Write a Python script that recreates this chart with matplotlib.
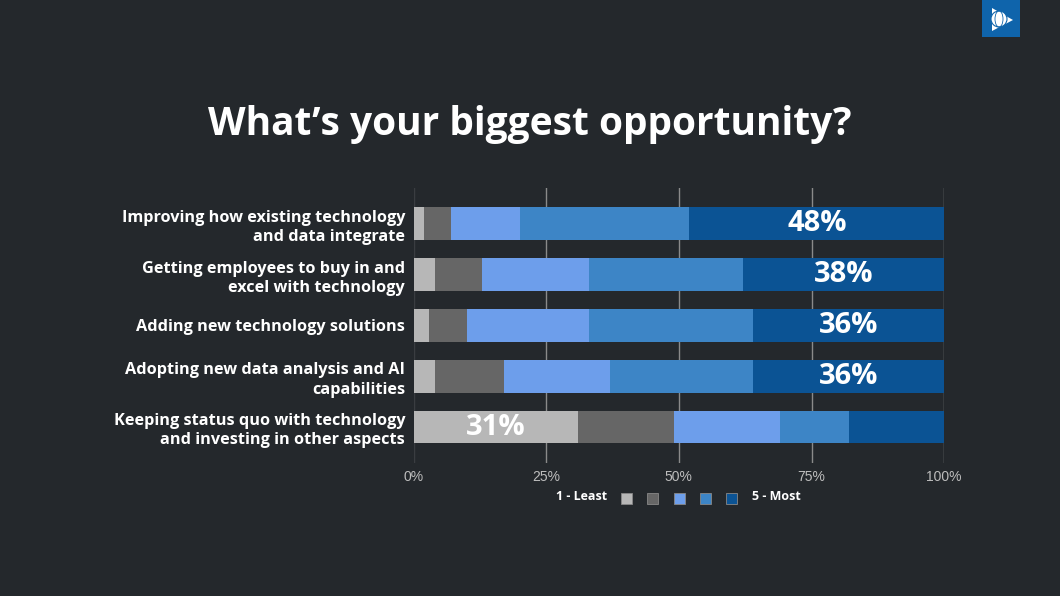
# Stacked 100% bar chart: biggest opportunity ratings

import matplotlib.pyplot as plt
from matplotlib.patches import Rectangle, Ellipse, Polygon

BG = '#24282c'

CATEGORIES = [
    'Improving how existing technology\nand data integrate',
    'Getting employees to buy in and\nexcel with technology',
    'Adding new technology solutions',
    'Adopting new data analysis and AI\ncapabilities',
    'Keeping status quo with technology\nand investing in other aspects',
]
# share of ratings 1 (least) .. 5 (most), in %
RATING_1 = [2, 4, 3, 4, 31]
RATING_2 = [5, 9, 7, 13, 18]
RATING_3 = [13, 20, 23, 20, 20]
RATING_4 = [32, 29, 31, 27, 13]
RATING_5 = [48, 38, 36, 36, 18]
SERIES = [RATING_1, RATING_2, RATING_3, RATING_4, RATING_5]
COLORS = ['#b7b7b7', '#666666', '#6d9eeb', '#3d85c6', '#0b5394']
XTICKS = [0, 25, 50, 75, 100]


def create():
    W, H = 1060, 596
    fig = plt.figure(figsize=(10.6, 5.96), dpi=100, facecolor=BG)
    ax = fig.add_axes([413.5 / W, 1 - 462.7 / H, 530.7 / W, 274.7 / H],
                      facecolor=BG)

    y = list(range(len(CATEGORIES)))
    left = [0] * len(CATEGORIES)
    for values, color in zip(SERIES, COLORS):
        ax.barh(y, values, left=left, height=0.644, color=color, zorder=2)
        left = [l + v for l, v in zip(left, values)]

    # label the biggest segment of each bar
    for i in y:
        vals = [s[i] for s in SERIES]
        k = vals.index(max(vals))
        start = sum(vals[:k])
        ax.text(start + vals[k] / 2, i, f'{vals[k]}%', ha='center', va='center',
                color='white', fontsize=21, fontweight='bold',
                family='Open Sans', zorder=3)

    ax.set_xlim(0, 100)
    ax.set_ylim(4.70, -0.703)
    ax.set_xticks(XTICKS)
    ax.set_xticklabels([f'{t}%' for t in XTICKS], color='#bdbdbd',
                       fontsize=10, family='Liberation Sans')
    ax.set_yticks(y)
    ax.set_yticklabels(CATEGORIES, color='white', fontsize=11.7,
                       fontweight='bold', family='Open Sans', linespacing=1.28)
    ax.tick_params(length=0)
    ax.tick_params(axis='x', pad=5)
    ax.tick_params(axis='y', pad=6)
    for s in ax.spines.values():
        s.set_visible(False)
    for t in XTICKS[1:]:
        ax.axvline(t, color='#8a8a8a', lw=1, zorder=1)
    ax.axvline(0, color='#3a3d41', lw=1, zorder=1)

    fig.text(0.5, 1 - 135 / H, 'What’s your biggest opportunity?', ha='center',
             va='baseline', color='white', fontsize=28, fontweight='bold',
             family='Open Sans')

    # legend row
    ly = 498
    fig.text(607 / W, 1 - 497 / H, '1 - Least', ha='right', va='center',
             color='white', fontsize=9, fontweight='bold', family='Open Sans')
    for j, color in enumerate(COLORS):
        x0 = 621 + j * 26.3
        fig.add_artist(Rectangle((x0 / W, 1 - (ly + 5.5) / H), 11 / W, 11 / H,
                                 transform=fig.transFigure, facecolor=color,
                                 edgecolor='#888888', lw=0.6))
    fig.text(752 / W, 1 - 497 / H, '5 - Most', ha='left', va='center',
             color='white', fontsize=9, fontweight='bold', family='Open Sans')

    # logo in the corner
    fig.add_artist(Rectangle((982 / W, 1 - 37 / H), 38 / W, 37 / H,
                             transform=fig.transFigure, facecolor='#0f64ab',
                             edgecolor='none'))
    fig.add_artist(Polygon([(992 / W, 1 - 8 / H), (1013 / W, 1 - 20 / H),
                            (992 / W, 1 - 31 / H)],
                           transform=fig.transFigure, facecolor='white'))
    fig.add_artist(Ellipse((999 / W, 1 - 19 / H), 16 / W, 16 / H,
                           transform=fig.transFigure, facecolor='white',
                           edgecolor='#0f64ab', lw=0.8))
    fig.add_artist(Ellipse((999 / W, 1 - 19 / H), 8 / W, 16 / H,
                           transform=fig.transFigure, facecolor='none',
                           edgecolor='#0f64ab', lw=0.6))

    plt.savefig('out.png', dpi=100, facecolor=BG)


if __name__ == "__main__":
    create()
